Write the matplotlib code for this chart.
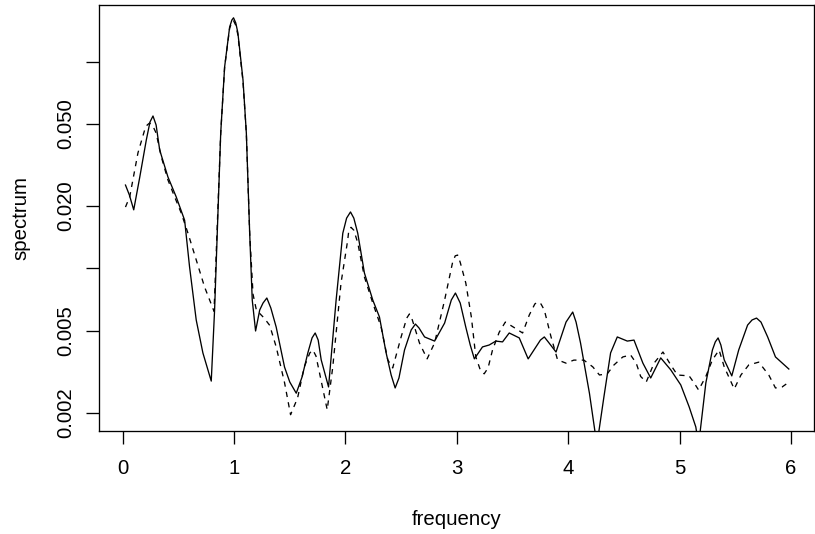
import matplotlib
matplotlib.use("Agg")
import matplotlib.pyplot as plt

plt.rcParams['font.family'] = ['Liberation Sans', 'DejaVu Sans']

# dashed series (plotted first, defines the y range)
freq_dashed = [0.025, 0.063, 0.137, 0.197, 0.22, 0.242, 0.27, 0.30, 0.347, 0.406, 0.466, 0.526,
               0.586, 0.66, 0.735, 0.82, 0.88, 0.915, 0.96, 0.98, 0.995, 1.015, 1.034, 1.08,
               1.11, 1.14, 1.17, 1.20, 1.27, 1.32, 1.378, 1.453, 1.507, 1.57,
               1.63, 1.68, 1.707, 1.735, 1.767, 1.836, 1.886, 1.96, 2.02, 2.03, 2.05, 2.075, 2.11, 2.17,
               2.245, 2.32, 2.38, 2.424, 2.50, 2.55, 2.574, 2.60, 2.664, 2.733, 2.80, 2.89,
               2.96, 2.985, 3.007, 3.03, 3.08, 3.13, 3.17, 3.21, 3.245, 3.28, 3.32, 3.38, 3.435, 3.52,
               3.59, 3.65, 3.70, 3.725, 3.755, 3.785, 3.845, 3.904, 3.98, 4.05, 4.14, 4.22,
               4.28, 4.35, 4.41, 4.49, 4.56, 4.61, 4.65, 4.70, 4.77, 4.85,
               4.92, 4.98, 5.085, 5.13, 5.17, 5.235, 5.294, 5.354, 5.40, 5.49,
               5.55, 5.62, 5.71, 5.80, 5.86, 5.92, 5.97]
spec_dashed = [0.0198, 0.0222, 0.0362, 0.0467, 0.0494, 0.0505, 0.0489, 0.0452, 0.0346, 0.0268, 0.0222, 0.0185,
               0.0148, 0.0110, 0.00813, 0.0062, 0.045, 0.094, 0.145, 0.155, 0.158, 0.150, 0.135, 0.080,
               0.045, 0.0148, 0.0075, 0.00629, 0.00575, 0.0053, 0.00417, 0.0028, 0.00196, 0.00236,
               0.00334, 0.0039, 0.00403, 0.00377, 0.00312, 0.00207, 0.00334, 0.0085, 0.0137, 0.0153, 0.0158, 0.0153, 0.0133, 0.00909,
               0.0068, 0.0052, 0.00361, 0.0033, 0.00467, 0.00575, 0.00602, 0.00563, 0.00436, 0.00365, 0.00436, 0.00703,
               0.0106, 0.0115, 0.0116, 0.0107, 0.0085, 0.00582, 0.00373, 0.00323, 0.00309, 0.0033, 0.00403, 0.00491, 0.0055, 0.00515,
               0.00487, 0.00595, 0.00673, 0.00688, 0.00673, 0.00629, 0.00467, 0.00361, 0.00348, 0.0036, 0.0036, 0.00334,
               0.00305, 0.00309, 0.00341, 0.00373, 0.00381, 0.00348, 0.0030, 0.00282, 0.00348, 0.00394,
               0.00341, 0.00305, 0.00302, 0.00279, 0.00258, 0.0030, 0.00361, 0.00403, 0.00334, 0.00261,
               0.00305, 0.00341, 0.00352, 0.00305, 0.00264, 0.00267, 0.00279]

# solid series (added on top)
freq_solid = [0.025, 0.06, 0.099, 0.152, 0.212, 0.245, 0.272, 0.30, 0.332, 0.406, 0.48, 0.556, 0.60,
              0.66, 0.72, 0.795, 0.825, 0.88, 0.915, 0.96, 0.98, 0.995, 1.015, 1.034, 1.08,
              1.11, 1.14, 1.163, 1.193, 1.23, 1.26, 1.294, 1.33, 1.378, 1.453, 1.50, 1.558, 1.61, 1.662,
              1.70, 1.728, 1.755, 1.782, 1.848, 1.916, 1.976, 2.01, 2.045, 2.075, 2.11, 2.17, 2.245, 2.305,
              2.365, 2.41, 2.446, 2.48, 2.53, 2.59, 2.628, 2.66, 2.71, 2.80, 2.89, 2.95, 2.987, 3.03, 3.08, 3.12, 3.157,
              3.23, 3.29, 3.35, 3.41, 3.47, 3.56, 3.64, 3.75, 3.785, 3.82, 3.89, 3.98, 4.04,
              4.07, 4.11, 4.19, 4.257, 4.32, 4.38, 4.44, 4.53, 4.59, 4.67, 4.74,
              4.83, 4.92, 5.01, 5.085, 5.145, 5.17, 5.235, 5.294, 5.32, 5.345, 5.37, 5.40,
              5.468, 5.53, 5.61, 5.65, 5.69, 5.73, 5.79, 5.86, 5.98]
spec_solid = [0.0253, 0.02265, 0.0192, 0.0274, 0.0418, 0.0511, 0.0546, 0.0494, 0.0374, 0.0277, 0.0222, 0.0171, 0.0102,
              0.00563, 0.0039, 0.00285, 0.00629, 0.0452, 0.0943, 0.147, 0.159, 0.163, 0.154, 0.138, 0.0816,
              0.0452, 0.0148, 0.00703, 0.00498, 0.00629, 0.0068, 0.00719, 0.00643, 0.0052, 0.00333, 0.00282, 0.00249, 0.00298, 0.0039,
              0.00461, 0.00487, 0.0045, 0.00361, 0.00267, 0.00703, 0.0148, 0.0175, 0.01875, 0.0175, 0.0148, 0.0095, 0.00703, 0.00582,
              0.0039, 0.00305, 0.00264, 0.00295, 0.00403, 0.00504, 0.00538, 0.00515, 0.00466, 0.00445, 0.00544, 0.00703, 0.0076, 0.0068, 0.0052, 0.00426, 0.00365,
              0.00417, 0.00426, 0.00445, 0.00441, 0.00487, 0.00461, 0.00365, 0.0045, 0.00466, 0.00441, 0.00394, 0.0055, 0.00615,
              0.0055, 0.00436, 0.00249, 0.0014, 0.00239, 0.0039, 0.00466, 0.00445, 0.0045, 0.00348, 0.00295,
              0.00369, 0.00323, 0.00273, 0.00214, 0.00171, 0.0014, 0.00279, 0.00403, 0.00441, 0.00461, 0.00426, 0.00361,
              0.00302, 0.00403, 0.00532, 0.00563, 0.00575, 0.0055, 0.00466, 0.00373, 0.00326]

x_ticks = [0, 1, 2, 3, 4, 5, 6]
x_tick_labels = ['0', '1', '2', '3', '4', '5', '6']
y_ticks = [0.002, 0.005, 0.01, 0.02, 0.05, 0.1]
y_tick_labels = ['0.002', '0.005', '', '0.020', '0.050', '']

W, H = 815, 534
fig = plt.figure(figsize=(W / 100, H / 100), dpi=100)
left, right, top, bottom = 99.3, 814.0, 5.0, 430.7
ax = fig.add_axes([left / W, 1 - bottom / H, (right - left) / W, (bottom - top) / H])

lw = 0.95
ax.plot(freq_dashed, spec_dashed, color='black', lw=lw, linestyle=(0, (4, 4)))
ax.plot(freq_solid, spec_solid, color='black', lw=lw, linestyle='-')

ax.set_yscale('log')
ax.set_xlim(-0.210, 6.206)
ax.set_ylim(0.001640, 0.1880)
ax.minorticks_off()
ax.set_xticks(x_ticks)
ax.set_xticklabels(x_tick_labels)
ax.set_yticks(y_ticks)
ax.set_yticklabels(y_tick_labels, rotation=90, va='center')

fs = 14.7
ax.tick_params(axis='both', direction='out', length=9.1, width=lw, labelsize=fs, colors='black')
ax.tick_params(axis='x', pad=11)
ax.tick_params(axis='y', pad=8)
for s in ax.spines.values():
    s.set_linewidth(lw)
    s.set_color('black')

ax.set_xlabel('frequency', fontsize=fs, labelpad=23)
ax.set_ylabel('spectrum', fontsize=fs, labelpad=19)

fig.savefig('out.png', dpi=100)
